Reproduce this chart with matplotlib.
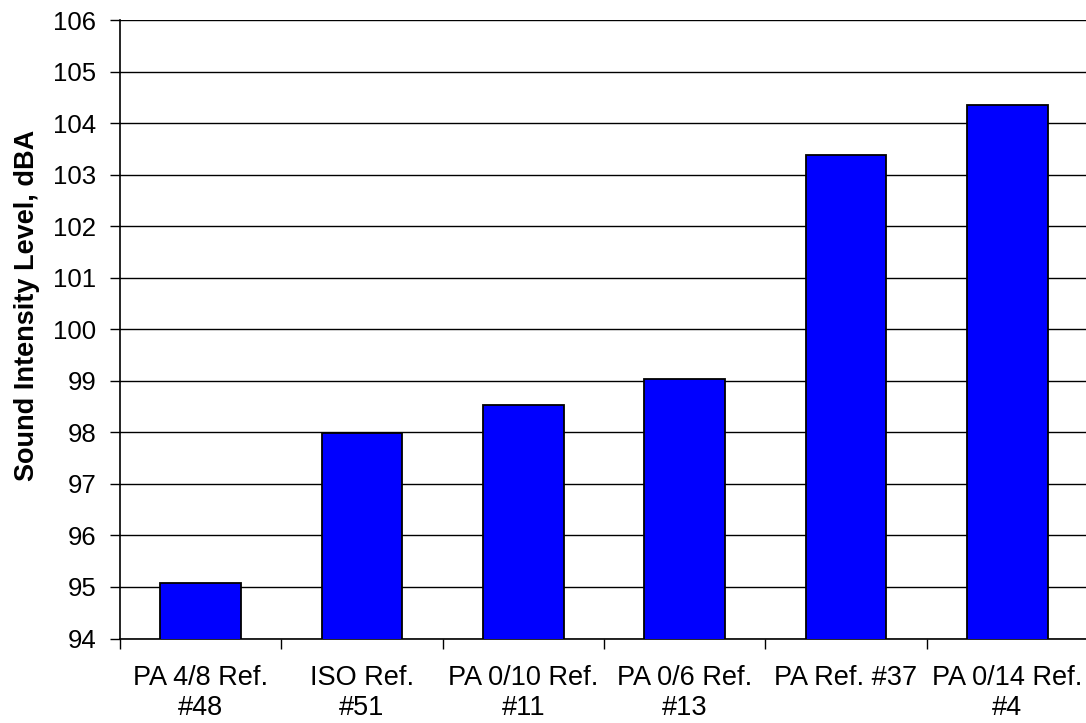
import matplotlib
matplotlib.use("Agg")
import matplotlib.pyplot as plt
import numpy as np

categories = ["PA 4/8 Ref.\n#48", "ISO Ref.\n#51", "PA 0/10 Ref.\n#11",
              "PA 0/6 Ref.\n#13", "PA Ref. #37", "PA 0/14 Ref.\n#4"]
values = [95.08, 97.99, 98.53, 99.03, 103.39, 104.35]
yticks = list(range(94, 107))

plt.rcParams['font.family'] = ['Liberation Sans', 'DejaVu Sans']

fig = plt.figure(figsize=(10.86, 7.23), dpi=100)
ax = fig.add_axes([120/1086, 1 - 638.5/723, 968/1086, (638.5 - 20)/723])

x = np.arange(len(categories))
ax.bar(x, values, width=0.5, color='#0000FF', edgecolor='black', linewidth=1.3,
       zorder=3)
ax.set_ylim(94, 106)
ax.set_xlim(-0.5, len(categories) - 0.5)
ax.set_yticks(yticks)
ax.set_yticklabels([str(t) for t in yticks], fontsize=18.5)
ax.yaxis.grid(True, color='black', linewidth=1.0, zorder=0)
ax.set_axisbelow(True)

ax.set_xticks(np.arange(len(categories) + 1) - 0.5)
ax.set_xticklabels([])
ax.set_xticks(x, minor=True)
ax.set_xticklabels(categories, minor=True, fontsize=19.5, linespacing=1.22)
ax.tick_params(axis='x', which='minor', length=0, pad=19)
ax.tick_params(axis='x', which='major', length=7, width=1, direction='out')
ax.tick_params(axis='y', length=7, width=1, direction='out', pad=10)

for s in ['top', 'right']:
    ax.spines[s].set_visible(False)
for s in ['left', 'bottom']:
    ax.spines[s].set_linewidth(1.2)
    ax.spines[s].set_color('black')

ax.set_ylabel("Sound Intensity Level, dBA", fontsize=19.5, fontweight='bold')
ax.yaxis.set_label_coords(-0.083, 0.539)

fig.savefig("out.png", dpi=100)
